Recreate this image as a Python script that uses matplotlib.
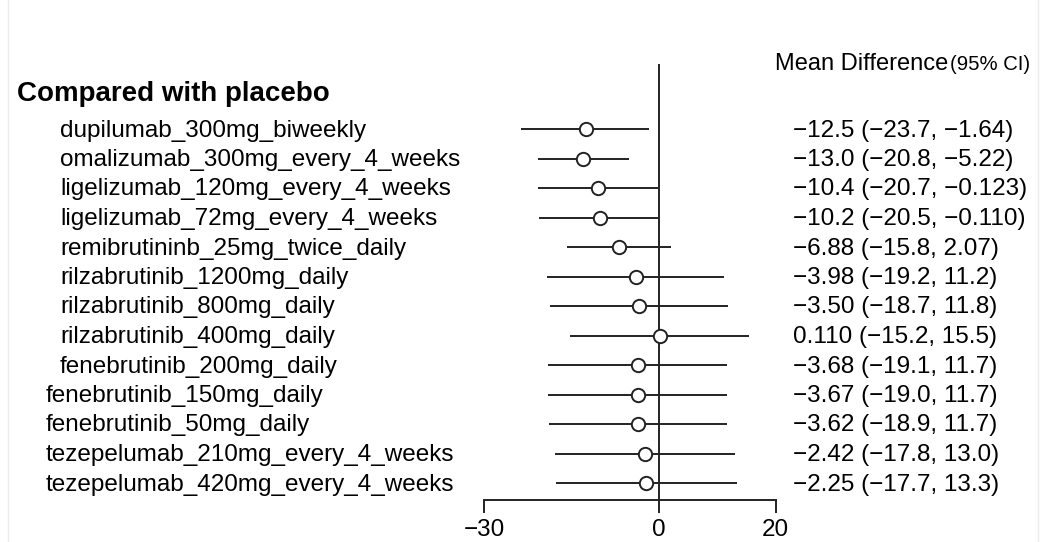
import numpy as np
import matplotlib
matplotlib.use("Agg")
from matplotlib import pyplot as plt
from matplotlib.lines import Line2D

plt.rcParams['font.family'] = ['Liberation Sans', 'DejaVu Sans']

treatments = [
    "dupilumab_300mg_biweekly",
    "omalizumab_300mg_every_4_weeks",
    "ligelizumab_120mg_every_4_weeks",
    "ligelizumab_72mg_every_4_weeks",
    "remibrutininb_25mg_twice_daily",
    "rilzabrutinib_1200mg_daily",
    "rilzabrutinib_800mg_daily",
    "rilzabrutinib_400mg_daily",
    "fenebrutinib_200mg_daily",
    "fenebrutinib_150mg_daily",
    "fenebrutinib_50mg_daily",
    "tezepelumab_210mg_every_4_weeks",
    "tezepelumab_420mg_every_4_weeks",
]
mean_diff = [-12.5, -13.0, -10.4, -10.2, -6.88, -3.98, -3.50, 0.110, -3.68, -3.67, -3.62, -2.42, -2.25]
ci_low = [-23.7, -20.8, -20.7, -20.5, -15.8, -19.2, -18.7, -15.2, -19.1, -19.0, -18.9, -17.8, -17.7]
ci_high = [-1.64, -5.22, -0.123, -0.110, 2.07, 11.2, 11.8, 15.5, 11.7, 11.7, 11.7, 13.0, 13.3]
ci_text = [
    "\u221212.5 (\u221223.7, \u22121.64)",
    "\u221213.0 (\u221220.8, \u22125.22)",
    "\u221210.4 (\u221220.7, \u22120.123)",
    "\u221210.2 (\u221220.5, \u22120.110)",
    "\u22126.88 (\u221215.8, 2.07)",
    "\u22123.98 (\u221219.2, 11.2)",
    "\u22123.50 (\u221218.7, 11.8)",
    "0.110 (\u221215.2, 15.5)",
    "\u22123.68 (\u221219.1, 11.7)",
    "\u22123.67 (\u221219.0, 11.7)",
    "\u22123.62 (\u221218.9, 11.7)",
    "\u22122.42 (\u221217.8, 13.0)",
    "\u22122.25 (\u221217.7, 13.3)",
]
# label indent in pixels (the last rows sit a bit further left in the original)
label_x = [60] * 9 + [46] * 4
xticks = [-30, 0, 20]

W, H = 1043, 542
fig = plt.figure(figsize=(W / 100, H / 100), dpi=100)

def px(x, y):
    return x / W, 1 - y / H

row0, step = 129, 29.5
top_px, bot_px = 65, 500
left_px, right_px = 484, 775.7
ax = fig.add_axes([left_px / W, 1 - bot_px / H, (right_px - left_px) / W, (bot_px - top_px) / H])
ax.set_xlim(-30, 20)
ax.set_ylim((bot_px - row0) / step, (top_px - row0) / step)

ys = np.arange(len(treatments))
col = '#222222'
lw = 1.4
ax.hlines(ys, ci_low, ci_high, color=col, lw=lw)
ax.axvline(0, color=col, lw=lw, clip_on=False)
ax.plot(mean_diff, ys, 'o', ms=9.6, mfc='white', mec=col, mew=1.4, zorder=3)

for s in ['top', 'right', 'left']:
    ax.spines[s].set_visible(False)
ax.spines['bottom'].set_color(col)
ax.spines['bottom'].set_linewidth(lw)
ax.set_yticks([])
ax.set_xticks(xticks)
ax.set_xticklabels(["\u221230", "0", "20"])
ax.tick_params(axis='x', direction='out', length=9.5, width=lw, color=col, labelsize=17.5, pad=4)

fs = 17.5
dy = 1.5
for i, name in enumerate(treatments):
    fig.text(*px(label_x[i], row0 + step * i + dy), name, fontsize=fs, va='center', ha='left')
    fig.text(*px(793, row0 + step * i + dy), ci_text[i], fontsize=fs, va='center', ha='left')

fig.text(*px(17, 94), "Compared with placebo", fontsize=20, fontweight='bold', va='center', ha='left')
fig.text(*px(775, 64), "Mean Difference", fontsize=17, va='center', ha='left')
fig.text(*px(950, 65), "(95% CI)", fontsize=14.6, va='center', ha='left')

# faint frame edges of the original screenshot
fig.add_artist(Line2D([8 / W, 8 / W], [0, 1], color='#ececec', lw=1))
fig.add_artist(Line2D([1038 / W, 1038 / W], [0, 1], color='#ececec', lw=1))

plt.savefig("out.png", dpi=100)
